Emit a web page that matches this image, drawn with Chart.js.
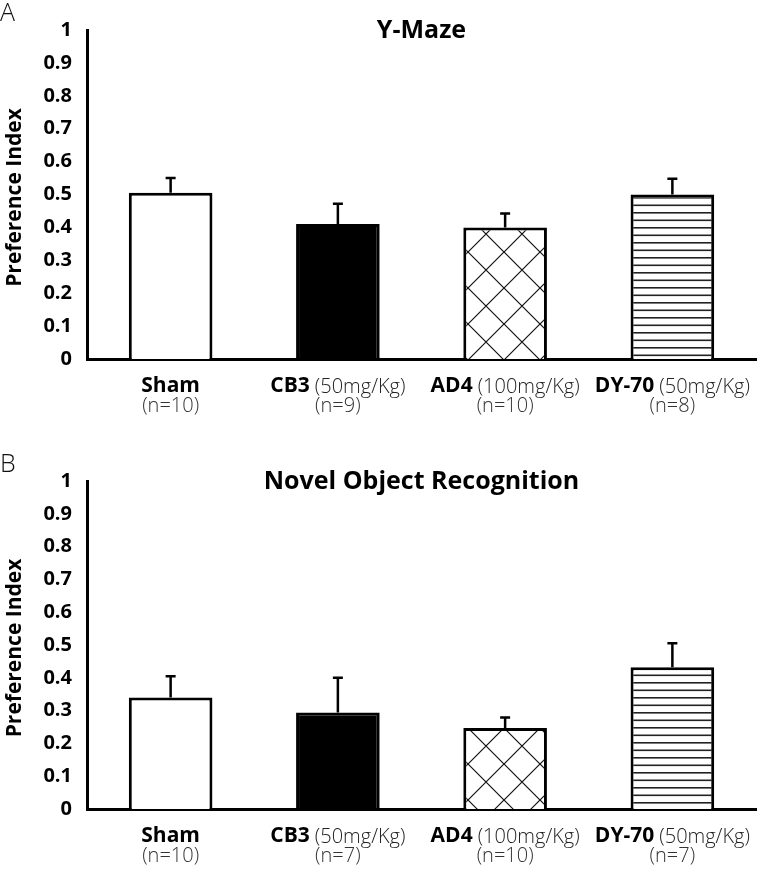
<!DOCTYPE html>
<html>
<head>
<meta charset="utf-8">
<script src="https://cdn.jsdelivr.net/npm/chart.js@4.4.1/dist/chart.umd.min.js"></script>
<style>
  html, body { margin: 0; padding: 0; background: #fff; }
  body { width: 758px; height: 873px; position: relative; overflow: hidden; }
  .panel { position: absolute; left: 0; width: 758px; }
  .letter { position: absolute; left: 0; font-family: "Open Sans", sans-serif; font-weight: 300; font-size: 25px; color: #111; line-height: 1; }
</style>
</head>
<body>
<div class="panel" style="top:0; height:440px;"><canvas id="chartA" width="758" height="440"></canvas></div>
<div class="panel" style="top:440px; height:433px;"><canvas id="chartB" width="758" height="433"></canvas></div>
<div class="letter" style="top:-1px;">A</div>
<div class="letter" style="top:450px;">B</div>
<script>
// группы и подписи
const groups = ['Sham', 'CB3', 'AD4', 'DY-70']
const doses = ['', '(50mg/Kg)', '(100mg/Kg)', '(50mg/Kg)']
const yTitle = 'Preference Index'

// Y-Maze
const yMazeTitle = 'Y-Maze'
const yMazeN = ['(n=10)', '(n=9)', '(n=10)', '(n=8)']
const yMazeMean = [0.505, 0.41, 0.40, 0.50]
const yMazeErr = [0.045, 0.062, 0.042, 0.048]

// Novel Object Recognition
const norTitle = 'Novel Object Recognition'
const norN = ['(n=10)', '(n=7)', '(n=10)', '(n=7)']
const norMean = [0.34, 0.294, 0.247, 0.432]
const norErr = [0.065, 0.106, 0.032, 0.073]

const FONT = '"Open Sans", "Noto Sans", sans-serif'

function crossHatch() {
   const s = 36
   const c = document.createElement('canvas')
   c.width = s; c.height = s
   const g = c.getContext('2d')
   g.fillStyle = '#fff'
   g.fillRect(0, 0, s, s)
   g.strokeStyle = '#111'
   g.lineWidth = 1.2
   g.beginPath()
   for (const o of [-s, 0, s]) {
      g.moveTo(o, 0); g.lineTo(o + s, s)
      g.moveTo(o + s, 0); g.lineTo(o, s)
   }
   g.stroke()
   return g.createPattern(c, 'repeat')
}

function stripes() {
   const c = document.createElement('canvas')
   c.width = 4; c.height = 15
   const g = c.getContext('2d')
   g.fillStyle = '#fff'
   g.fillRect(0, 0, 4, 15)
   g.fillStyle = '#222'
   g.fillRect(0, 2, 4, 1.6)
   g.fillRect(0, 9.5, 4, 1.6)
   return g.createPattern(c, 'repeat')
}

// рисуем планки ошибок, подписи осей и заголовок
const extrasPlugin = {
   id: 'extras',
   afterDatasetsDraw(chart, args, opts) {
      const ctx = chart.ctx
      const y = chart.scales.y
      const meta = chart.getDatasetMeta(0)
      ctx.save()
      ctx.strokeStyle = '#000'
      ctx.lineWidth = 2.5
      meta.data.forEach((bar, i) => {
         const top = y.getPixelForValue(opts.mean[i] + opts.err[i])
         ctx.beginPath()
         ctx.moveTo(bar.x, bar.y)
         ctx.lineTo(bar.x, top)
         ctx.moveTo(bar.x - 5, top)
         ctx.lineTo(bar.x + 5, top)
         ctx.stroke()
      })
      ctx.restore()
   },
   afterDraw(chart, args, opts) {
      const ctx = chart.ctx
      const area = chart.chartArea
      const x = chart.scales.x
      ctx.save()
      ctx.textBaseline = 'middle'
      ctx.textAlign = 'center'
      ctx.fillStyle = '#000'
      ctx.font = `bold 25px ${FONT}`
      ctx.fillText(opts.title, (area.left + area.right) / 2, area.top + 1)

      // подпись оси Y
      ctx.save()
      ctx.translate(15, (area.top + area.bottom) / 2 + 3)
      ctx.rotate(-Math.PI / 2)
      ctx.font = `bold 21px ${FONT}`
      ctx.fillText(yTitle, 0, 0)
      ctx.restore()

      const bold = `bold 21px ${FONT}`
      const light = `300 20px ${FONT}`
      groups.forEach((name, i) => {
         const cx = x.getPixelForValue(i)
         const ly = area.bottom + 27
         ctx.font = bold
         const w1 = ctx.measureText(name).width
         let w2 = 0, gap = 0
         if (doses[i]) {
            ctx.font = light
            w2 = ctx.measureText(doses[i]).width
            gap = 5
         }
         let sx = cx - (w1 + gap + w2) / 2
         ctx.textAlign = 'left'
         ctx.font = bold
         ctx.fillStyle = '#000'
         ctx.fillText(name, sx, ly)
         if (doses[i]) {
            ctx.font = light
            ctx.fillStyle = '#222'
            ctx.fillText(doses[i], sx + w1 + gap, ly + 1)
         }
         ctx.textAlign = 'center'
         ctx.font = light
         ctx.fillStyle = '#333'
         ctx.fillText(opts.n[i], cx, area.bottom + 47)
      })
      ctx.restore()
   }
}

function makeChart(id, title, mean, err, n, pad) {
   return new Chart(document.getElementById(id), {
      type: 'bar',
      data: {
         labels: groups,
         datasets: [{
            data: mean,
            backgroundColor: ['#fff', '#000', crossHatch(), stripes()],
            borderColor: '#000',
            borderWidth: 3,
            barPercentage: 0.5,
            categoryPercentage: 1
         }]
      },
      options: {
         responsive: false,
         animation: false,
         layout: { padding: pad },
         plugins: {
            legend: { display: false },
            tooltip: { enabled: false },
            extras: { title: title, mean: mean, err: err, n: n }
         },
         scales: {
            x: {
               grid: { display: false, drawTicks: false },
               border: { display: true, color: '#000', width: 3 },
               ticks: { display: false }
            },
            y: {
               min: 0,
               max: 1,
               afterFit: (s) => { s.width = 87 },
               grid: { display: false, drawTicks: false },
               border: { display: true, color: '#000', width: 3 },
               ticks: {
                  stepSize: 0.1,
                  padding: 15,
                  color: '#000',
                  font: { family: FONT, weight: 'bold', size: 20 },
                  callback: (v) => String(+v.toFixed(1))
               }
            }
         }
      },
      plugins: [extrasPlugin]
   })
}

makeChart('chartA', yMazeTitle, yMazeMean, yMazeErr, yMazeN, { top: 30, right: 2, bottom: 81, left: 0 })
makeChart('chartB', norTitle, norMean, norErr, norN, { top: 41, right: 2, bottom: 64, left: 0 })
</script>
</body>
</html>
